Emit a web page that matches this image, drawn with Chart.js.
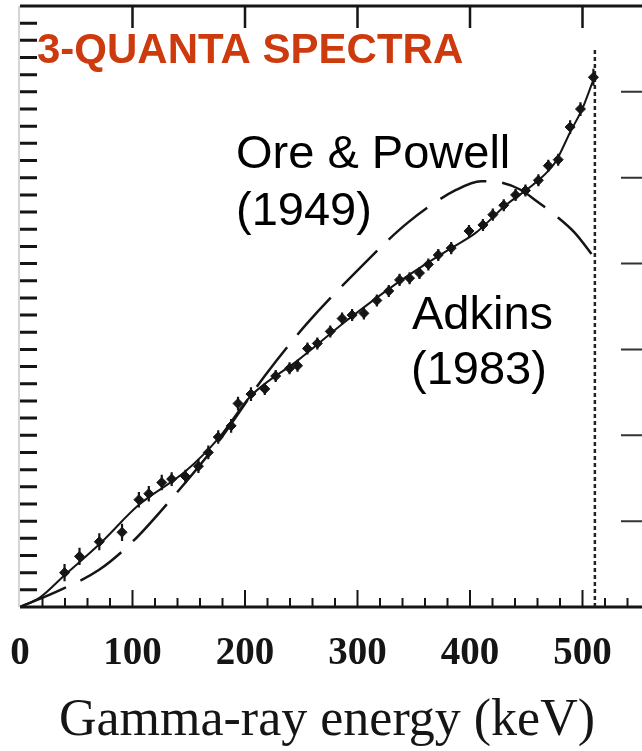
<!DOCTYPE html>
<html>
<head>
<meta charset="utf-8">
<script src="https://cdn.jsdelivr.net/npm/chart.js@4.4.0/dist/chart.umd.min.js"></script>
<style>
  html, body { margin: 0; padding: 0; background: #fff; overflow: hidden; }
  #wrap { width: 642px; height: 751px; overflow: hidden; }
  canvas { display: block; }
</style>
</head>
<body>
<div id="wrap"><canvas id="chart" width="656" height="751"></canvas></div>
<script>
// tick labels on the energy axis (keV)
const xTicks = [0, 100, 200, 300, 400, 500];

// Adkins (1983) measured points: energy (keV), intensity (arb. units), error
const adkinsE = [39.6, 52.9, 70.5, 90.7, 105.7, 114.5, 126.0, 134.8, 147.1, 158.6, 167.4, 176.2, 187.7, 193.8, 205.3,
  217.6, 227.3, 239.6, 246.7, 255.5, 264.3, 275.8, 286.3, 295.2, 305.7, 317.2, 327.8, 337.4, 346.3, 355.1,
  363.0, 371.8, 383.3, 399.1, 411.5, 420.3, 430.0, 440.5, 449.3, 460.8, 469.6, 478.4, 489.0, 498.2, 509.7];
const adkinsY = [0.40, 0.59, 0.76, 0.87, 1.25, 1.32, 1.45, 1.49, 1.52, 1.64, 1.80, 1.98, 2.11, 2.37, 2.48,
  2.54, 2.69, 2.78, 2.81, 3.01, 3.07, 3.21, 3.36, 3.40, 3.42, 3.57, 3.68, 3.81, 3.83, 3.89,
  3.99, 4.10, 4.18, 4.38, 4.45, 4.57, 4.68, 4.80, 4.85, 4.97, 5.14, 5.21, 5.59, 5.80, 6.17];
const adkinsErr = [0.10, 0.10, 0.10, 0.10, 0.09, 0.09, 0.09, 0.08, 0.08, 0.08, 0.08, 0.08, 0.08, 0.08, 0.08,
  0.07, 0.07, 0.07, 0.07, 0.07, 0.07, 0.07, 0.07, 0.07, 0.07, 0.07, 0.07, 0.07, 0.07, 0.07,
  0.07, 0.07, 0.07, 0.07, 0.07, 0.07, 0.07, 0.07, 0.07, 0.07, 0.07, 0.07, 0.08, 0.08, 0.10];

// Adkins theory curve (solid)
const adkinsLineE = [0, 17.6, 39.6, 70.5, 105.7, 147.1, 176.2, 205.3, 246.7, 290.7, 334.8, 361.2, 383.3, 405.3,
  431.7, 458.1, 475.8, 489.0, 500.4, 511];
const adkinsLineY = [0, 0.11, 0.37, 0.73, 1.19, 1.58, 1.96, 2.46, 2.87, 3.34, 3.77, 4.00, 4.18, 4.36,
  4.68, 4.94, 5.18, 5.53, 5.82, 6.19];

// Ore & Powell (1949) curve (dashed)
const oreE = [0, 36, 70, 100, 132, 176, 218, 255, 300, 345, 388, 410, 425, 445, 460, 476, 493, 511];
const oreY = [0, 0.20, 0.43, 0.76, 1.22, 1.92, 2.70, 3.30, 3.92, 4.48, 4.86, 4.96, 4.95, 4.86, 4.72, 4.56, 4.36, 4.06];

// 511 keV end point marker
const endE = [511, 511];
const endY = [0, 6.52];

const toXY = (xs, ys) => xs.map((v, i) => ({ x: v, y: ys[i] }));
const ink = '#151515';

const frame = {
  id: 'frame',
  beforeDatasetsDraw(chart) {
    const { ctx, chartArea: a, scales: { x, y } } = chart;
    ctx.save();
    ctx.strokeStyle = ink;
    // top and bottom lines
    ctx.lineWidth = 3;
    ctx.beginPath();
    ctx.moveTo(a.left, a.top); ctx.lineTo(a.right, a.top);
    ctx.moveTo(a.left, a.bottom); ctx.lineTo(a.right, a.bottom);
    ctx.stroke();
    // faint left line
    ctx.strokeStyle = '#aaa';
    ctx.lineWidth = 1;
    ctx.beginPath();
    ctx.moveTo(a.left - 1, a.top); ctx.lineTo(a.left - 1, a.bottom);
    ctx.stroke();
    ctx.strokeStyle = ink;
    // left ticks every 0.2
    ctx.lineWidth = 3;
    ctx.beginPath();
    for (let v = 0.2; v < 7; v += 0.2) {
      const py = y.getPixelForValue(v);
      ctx.moveTo(a.left, py); ctx.lineTo(a.left + 17, py);
    }
    ctx.stroke();
    // right ticks every 1
    ctx.lineWidth = 2;
    ctx.strokeStyle = '#333';
    ctx.beginPath();
    for (let v = 1; v < 7; v++) {
      const py = y.getPixelForValue(v);
      ctx.moveTo(a.right - 29, py); ctx.lineTo(a.right, py);
    }
    ctx.stroke();
    // bottom ticks every 20 keV, top ticks every 100
    ctx.strokeStyle = ink;
    ctx.lineWidth = 2;
    ctx.beginPath();
    for (let v = 20; v < 560; v += 20) {
      const px = x.getPixelForValue(v);
      const len = v % 100 === 0 ? 17 : 9;
      ctx.moveTo(px, a.bottom); ctx.lineTo(px, a.bottom - len);
    }
    ctx.stroke();
    ctx.lineWidth = 2.5;
    ctx.beginPath();
    xTicks.slice(1).forEach(v => {
      const px = x.getPixelForValue(v);
      ctx.moveTo(px, a.top); ctx.lineTo(px, a.top + 22);
    });
    ctx.stroke();
    // error bars
    ctx.lineWidth = 2.2;
    ctx.beginPath();
    adkinsE.forEach((e, i) => {
      const px = x.getPixelForValue(e);
      ctx.moveTo(px, y.getPixelForValue(adkinsY[i] - adkinsErr[i]));
      ctx.lineTo(px, y.getPixelForValue(adkinsY[i] + adkinsErr[i]));
    });
    ctx.stroke();
    ctx.restore();
  },
  afterDraw(chart) {
    const { ctx } = chart;
    ctx.save();
    ctx.textAlign = 'left';
    ctx.textBaseline = 'alphabetic';
    ctx.fillStyle = '#cc3a0e';
    ctx.font = 'bold 42px "Liberation Sans", Arial, sans-serif';
    ctx.fillText('3-QUANTA SPECTRA', 37, 63);
    ctx.fillStyle = '#000';
    ctx.font = '47px "Liberation Sans", Arial, sans-serif';
    ctx.fillText('Ore & Powell', 236, 168);
    ctx.fillText('(1949)', 236, 225);
    ctx.fillText('Adkins', 412, 329);
    ctx.fillText('(1983)', 411, 384);
    ctx.fillStyle = ink;
    ctx.textAlign = 'center';
    ctx.textBaseline = 'middle';
    ctx.font = '52px "Liberation Serif", "Times New Roman", serif';
    ctx.fillText('Gamma-ray energy (keV)', 327, 721);
    ctx.restore();
  }
};

new Chart(document.getElementById('chart'), {
  type: 'scatter',
  data: {
    datasets: [
      {
        label: 'Adkins (1983) data',
        data: toXY(adkinsE, adkinsY),
        pointStyle: 'rectRot',
        pointRadius: 5,
        backgroundColor: ink,
        borderColor: ink,
        borderWidth: 1
      },
      {
        label: 'Adkins (1983)',
        data: toXY(adkinsLineE, adkinsLineY),
        showLine: true,
        pointRadius: 0,
        borderColor: ink,
        borderWidth: 2,
        cubicInterpolationMode: 'monotone'
      },
      {
        label: 'Ore & Powell (1949)',
        data: toXY(oreE, oreY),
        showLine: true,
        pointRadius: 0,
        borderColor: ink,
        borderWidth: 2.5,
        borderDash: [50, 16],
        cubicInterpolationMode: 'monotone'
      },
      {
        label: '511 keV',
        data: toXY(endE, endY),
        showLine: true,
        pointRadius: 0,
        borderColor: '#222',
        borderWidth: 2.5,
        borderDash: [4, 3]
      }
    ]
  },
  options: {
    responsive: false,
    animation: false,
    layout: { padding: 0 },
    plugins: { legend: { display: false }, tooltip: { enabled: false } },
    scales: {
      x: {
        type: 'linear',
        min: 0,
        max: 560,
        grid: { display: false, drawTicks: false },
        border: { display: false },
        afterBuildTicks: s => { s.ticks = xTicks.map(v => ({ value: v })); },
        afterFit: s => { s.height = 144; },
        ticks: {
          padding: 0,
          color: ink,
          autoSkip: false,
          maxRotation: 0,
          font: { family: '"Liberation Serif", "Times New Roman", serif', size: 39, weight: 'bold', lineHeight: 2.41 }
        }
      },
      y: {
        type: 'linear',
        min: 0,
        max: 7,
        grid: { display: false, drawTicks: false },
        border: { display: false },
        ticks: { display: false },
        afterFit: s => { s.width = 20; }
      }
    }
  },
  plugins: [frame]
});
</script>
</body>
</html>
